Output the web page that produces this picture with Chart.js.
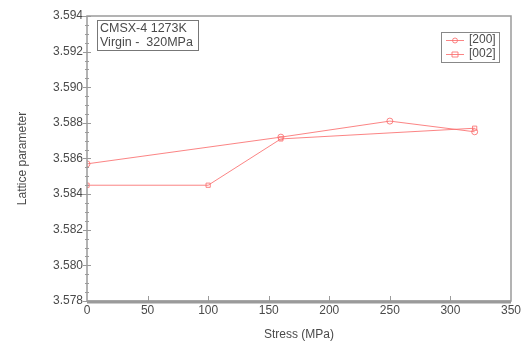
<!DOCTYPE html>
<html>
<head>
<meta charset="utf-8">
<script src="https://cdn.jsdelivr.net/npm/chart.js@4"></script>
<style>
  html, body { margin: 0; padding: 0; background: #fff; }
  #wrap { width: 526px; height: 342px; }
</style>
</head>
<body>
<div id="wrap"><canvas id="myChart" width="526" height="342"></canvas></div>
<script>
// data
var stress200 = [0, 160, 250, 320];
var lattice200 = [3.5857, 3.5872, 3.5881, 3.5875];
var stress002 = [0, 100, 160, 320];
var lattice002 = [3.5845, 3.5845, 3.5871, 3.5877];
var seriesNames = ['[200]', '[002]'];
var noteLines = ['CMSX-4 1273K', 'Virgin -  320MPa'];

var red = 'rgba(250, 110, 110, 0.85)';
var axisGrey = '#9a9a9a';
var textGrey = '#4a4a4a';
var font = 'Liberation Sans, Arial, sans-serif';

function toPoints(xs, ys) {
  var pts = [];
  for (let i = 0; i < xs.length; i++) pts.push({ x: xs[i], y: ys[i] });
  return pts;
}

// minor ticks, note box and legend box
var decorations = {
  id: 'decorations',
  afterDraw: function(chart) {
    var c = chart.ctx;
    var area = chart.chartArea;
    var ys = chart.scales.y;
    var xs = chart.scales.x;
    c.save();
    c.strokeStyle = axisGrey;
    c.lineWidth = 1;
    // y ticks, majors and minors
    for (let v = 3.578; v <= 3.5941; v += 0.0005) {
      var py = Math.round(ys.getPixelForValue(v)) + 0.5;
      var major = Math.abs(Math.round(v / 0.002) * 0.002 - v) < 1e-6;
      c.beginPath();
      c.moveTo(area.left - (major ? 4 : 2), py);
      c.lineTo(area.left + (major ? 4 : 2), py);
      c.stroke();
    }
    // x ticks pointing up
    for (let v = 50; v < 350; v += 50) {
      var px = Math.round(xs.getPixelForValue(v)) + 0.5;
      c.beginPath();
      c.moveTo(px, area.bottom);
      c.lineTo(px, area.bottom - 5);
      c.stroke();
    }
    // frame
    c.lineWidth = 1.5;
    c.strokeRect(area.left, area.top, area.right - area.left, area.bottom - area.top);
    c.lineWidth = 3;
    c.beginPath();
    c.moveTo(area.left, area.bottom + 1);
    c.lineTo(area.right, area.bottom + 1);
    c.stroke();

    // note box
    c.font = '12.5px ' + font;
    c.fillStyle = textGrey;
    c.textBaseline = 'middle';
    c.lineWidth = 1;
    c.strokeStyle = '#777';
    c.strokeRect(97.5, 20.5, 101, 30);
    c.fillText(noteLines[0], 100, 28.5);
    c.fillText(noteLines[1], 100, 42.5);

    // legend box
    c.font = '12px ' + font;
    c.strokeStyle = '#888';
    c.strokeRect(441.5, 32.5, 58, 30);
    var rows = [40, 54];
    for (let i = 0; i < 2; i++) {
      var ly = rows[i] + 0.5;
      c.strokeStyle = red;
      c.lineWidth = 1;
      c.beginPath();
      c.moveTo(446, ly);
      c.lineTo(464, ly);
      c.stroke();
      c.beginPath();
      if (i === 0) c.arc(455, ly, 2.5, 0, Math.PI * 2);
      else c.rect(452, ly - 2.5, 6, 5);
      c.stroke();
      c.fillStyle = textGrey;
      c.fillText(seriesNames[i], 469, rows[i]);
    }
    c.restore();
  }
};

var ctx = document.getElementById('myChart').getContext('2d');
var myChart = new Chart(ctx, {
  type: 'scatter',
  data: {
    datasets: [{
      label: seriesNames[0],
      data: toPoints(stress200, lattice200),
      showLine: true,
      borderColor: red,
      backgroundColor: 'rgba(255,255,255,0)',
      borderWidth: 1,
      pointStyle: 'circle',
      pointRadius: 3,
      pointBorderWidth: 1
    }, {
      label: seriesNames[1],
      data: toPoints(stress002, lattice002),
      showLine: true,
      borderColor: red,
      backgroundColor: 'rgba(255,255,255,0)',
      borderWidth: 1,
      pointStyle: 'rect',
      pointRadius: 3,
      pointBorderWidth: 1
    }]
  },
  options: {
    responsive: false,
    animation: false,
    layout: { padding: { top: 16, right: 15, left: 15, bottom: 0 } },
    plugins: { legend: { display: false }, tooltip: { enabled: false } },
    scales: {
      x: {
        type: 'linear',
        min: 0, max: 350,
        border: { display: false },
        grid: { display: false, drawTicks: false },
        ticks: { stepSize: 50, color: textGrey, font: { family: font, size: 12 }, padding: 2, maxRotation: 0 },
        title: { display: true, text: 'Stress (MPa)', color: textGrey, font: { family: font, size: 12 }, padding: { top: 6, bottom: 0 } },
        afterFit: function(scale) { scale.height = 41; }
      },
      y: {
        min: 3.578, max: 3.594,
        border: { display: false },
        grid: { display: false, drawTicks: false },
        ticks: {
          stepSize: 0.002, color: textGrey, font: { family: font, size: 12 }, padding: 4,
          callback: function(v) { return v.toFixed(3); }
        },
        title: { display: true, text: 'Lattice parameter', color: textGrey, font: { family: font, size: 12 }, padding: { top: 0, bottom: 6 } },
        afterFit: function(scale) { scale.width = 72; }
      }
    }
  },
  plugins: [decorations]
});
</script>
</body>
</html>
